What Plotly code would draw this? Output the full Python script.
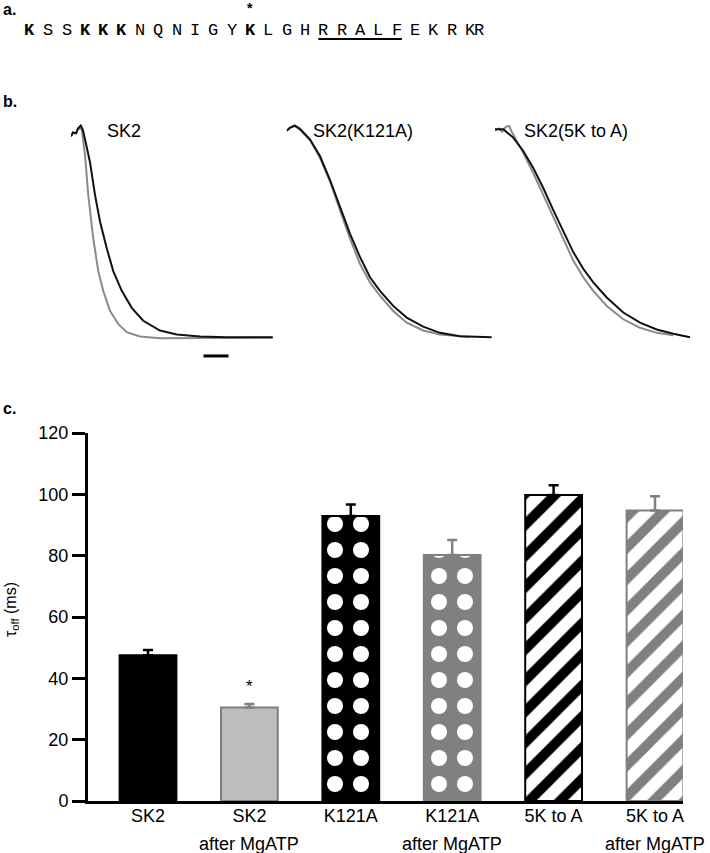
import plotly.graph_objects as go

W, H = 710, 853

# ---------------- DATA ----------------
# Panel a: peptide sequence
residues = ["K", "S", "S", "K", "K", "K", "N", "Q", "N", "I", "G", "Y", "K",
            "L", "G", "H", "R", "R", "A", "L", "F", "E", "K", "R", "K", "R"]
bold_idx = [0, 3, 4, 5, 12]
star_idx = 12
underline_span = (16, 20)

# Panel b: normalized current traces (time in ms, relative current)
sk2_t_ctrl = [0, 8, 20, 28, 39, 48, 56, 76, 96, 116, 143, 169, 203, 243, 289, 356, 423, 516, 623, 807]
sk2_i_ctrl = [0.949, 0.967, 0.963, 0.986, 1.0, 0.977, 0.935, 0.827, 0.673, 0.547, 0.421, 0.313,
              0.220, 0.140, 0.079, 0.033, 0.014, 0.005, 0.001, 0.001]
sk2_t_atp = [0, 8, 20, 28, 43, 56, 69, 89, 109, 129, 156, 189, 223, 276, 356, 488, 807]
sk2_i_atp = [0.949, 0.967, 0.963, 0.986, 0.983, 0.860, 0.673, 0.467, 0.313, 0.220, 0.126,
             0.064, 0.025, 0.005, -0.003, -0.003, -0.001]

k121a_t_ctrl = [0, 13, 33, 53, 93, 133, 173, 213, 253, 293, 333, 373, 426, 480, 546, 613, 693, 820]
k121a_i_ctrl = [0.975, 0.990, 0.999, 0.984, 0.935, 0.856, 0.744, 0.618, 0.490, 0.380, 0.284,
                0.220, 0.149, 0.094, 0.051, 0.022, 0.006, 0.001]
k121a_t_atp = [0, 29, 53, 93, 133, 173, 213, 253, 293, 333, 373, 426, 480, 546, 613, 693, 733]
k121a_i_atp = [0.975, 1.0, 0.980, 0.931, 0.848, 0.737, 0.601, 0.467, 0.348, 0.260, 0.197,
               0.125, 0.070, 0.033, 0.014, 0.006, 0.002]

k5a_t_ctrl = [0, 33, 73, 113, 153, 193, 233, 273, 313, 353, 393, 447, 513, 580, 647, 713, 780]
k5a_i_ctrl = [0.982, 0.982, 0.943, 0.880, 0.800, 0.705, 0.601, 0.499, 0.403, 0.324, 0.260,
              0.189, 0.118, 0.070, 0.038, 0.018, 0.001]
k5a_t_atp = [0, 16, 28, 44, 56, 68, 113, 153, 193, 233, 273, 313, 353, 393, 447, 513, 580, 647, 713]
k5a_i_atp = [0.976, 0.986, 0.971, 0.995, 0.998, 0.967, 0.871, 0.776, 0.673, 0.570, 0.467,
             0.363, 0.284, 0.220, 0.149, 0.086, 0.046, 0.022, 0.011]

trace_titles = ["SK2", "SK2(K121A)", "SK2(5K to A)"]
scale_bar_ms = 100
scale_bar_start_ms = 530
scale_bar_level = -0.087

# Panel c: tau_off bar chart
categories = ["SK2", "SK2<br>after MgATP", "K121A", "K121A<br>after MgATP",
              "5K to A", "5K to A<br>after MgATP"]
tau_mean = [47.5, 30.5, 92.9, 80.2, 99.8, 94.7]
tau_sem = [1.7, 1.1, 3.8, 4.9, 3.2, 4.7]
y_ticks = [0, 20, 40, 60, 80, 100, 120]
signif_idx = 1
signif_level = 37.3

# ---------------- STYLE ----------------
FONT = "Liberation Sans, Arial, Helvetica, sans-serif"
BLACK = "#000000"
GRAY = "#808080"
LIGHT = "#bdbdbd"

def pxx(x):
    return x / W

def pyy(y):
    return 1 - y / H

fig = go.Figure()

# ---------- Panel b traces ----------
panel_px = [(71, 275), (286.7, 494), (495, 700)]
panel_ranges = [(0, (275 - 71) * 4), (0, (494 - 286.7) * 4), (0, (700 - 495) * 4)]
y_dom = [pyy(360), pyy(115)]
y_rng = [(337.5 - 360) / 212, (337.5 - 115) / 212]

trace_data = [
    (sk2_t_atp, sk2_i_atp, sk2_t_ctrl, sk2_i_ctrl),
    (k121a_t_atp, k121a_i_atp, k121a_t_ctrl, k121a_i_ctrl),
    (k5a_t_atp, k5a_i_atp, k5a_t_ctrl, k5a_i_ctrl),
]
for k, (ta, ia, tc, ic) in enumerate(trace_data):
    xa = f"x{k+2}"
    ya = f"y{k+2}"
    fig.add_trace(go.Scatter(x=ta, y=ia, mode="lines", line=dict(color="#8a8a8a", width=2),
                             xaxis=xa, yaxis=ya, showlegend=False, hoverinfo="skip"))
    fig.add_trace(go.Scatter(x=tc, y=ic, mode="lines", line=dict(color="#111111", width=2),
                             xaxis=xa, yaxis=ya, showlegend=False, hoverinfo="skip"))

# scale bar
fig.add_trace(go.Scatter(x=[scale_bar_start_ms, scale_bar_start_ms + scale_bar_ms],
                         y=[scale_bar_level, scale_bar_level], mode="lines",
                         line=dict(color=BLACK, width=3), xaxis="x2", yaxis="y2",
                         showlegend=False, hoverinfo="skip"))

for k in range(3):
    fig.update_layout(**{
        f"xaxis{k+2}": dict(domain=[pxx(panel_px[k][0]), pxx(panel_px[k][1])],
                            range=list(panel_ranges[k]), visible=False, anchor=f"y{k+2}",
                            automargin=False),
        f"yaxis{k+2}": dict(domain=y_dom, range=y_rng, visible=False, anchor=f"x{k+2}",
                            automargin=False),
    })

# ---------- Panel c bars ----------
bar_styles = [
    dict(color=BLACK, line=dict(color=BLACK, width=2), pattern=dict(shape="")),
    dict(color=LIGHT, line=dict(color="#7f7f7f", width=2), pattern=dict(shape="")),
    dict(color=BLACK, line=dict(color=BLACK, width=2),
         pattern=dict(shape=".", fgcolor="white", bgcolor=BLACK, size=26, solidity=0.3,
                      fillmode="replace")),
    dict(color=GRAY, line=dict(color=GRAY, width=2),
         pattern=dict(shape=".", fgcolor="white", bgcolor=GRAY, size=26, solidity=0.3,
                      fillmode="replace")),
    dict(color="white", line=dict(color=BLACK, width=2),
         pattern=dict(shape="/", fgcolor=BLACK, bgcolor="white", size=22, solidity=0.45,
                      fillmode="replace")),
    dict(color="white", line=dict(color=GRAY, width=2),
         pattern=dict(shape="/", fgcolor=GRAY, bgcolor="white", size=22, solidity=0.45,
                      fillmode="replace")),
]
err_colors = [BLACK, GRAY, BLACK, GRAY, BLACK, GRAY]

for i in range(len(categories)):
    fig.add_trace(go.Bar(
        x=[i], y=[tau_mean[i]], width=0.56, marker=bar_styles[i],
        error_y=dict(type="data", array=[tau_sem[i]], arrayminus=[0], symmetric=False,
                     color=err_colors[i], thickness=2.5, width=5),
        showlegend=False, hoverinfo="skip", xaxis="x", yaxis="y"))

unit = 101.4
x0 = -(148 - 88) / unit
x1 = x0 + (683 - 88) / unit

# category labels: first line as tick labels, second line as annotations (wider line gap)
first_lines = [c.split("<br>")[0] for c in categories]
second_lines = [c.split("<br>")[1] if "<br>" in c else "" for c in categories]

fig.update_layout(
    xaxis=dict(domain=[pxx(88), pxx(683)], range=[x0, x1], tickmode="array",
               tickvals=list(range(len(categories))), ticktext=first_lines,
               showline=True, linecolor=BLACK, linewidth=3, ticks="",
               ticklabelstandoff=-4, showgrid=False, zeroline=False, automargin=False,
               tickfont=dict(family=FONT, size=18, color=BLACK), anchor="y"),
    yaxis=dict(domain=[pyy(801), pyy(433)], range=[0, 120], tickmode="array",
               tickvals=y_ticks, showline=True, linecolor=BLACK, linewidth=3,
               ticks="outside", ticklen=13, tickwidth=3, tickcolor=BLACK,
               showgrid=False, zeroline=False, automargin=False,
               tickfont=dict(family=FONT, size=18, color=BLACK), anchor="x"),
    barmode="overlay",
)

ann = []
for i, s in enumerate(second_lines):
    if s:
        ann.append(dict(x=i, y=pyy(844), xref="x", yref="paper", text=s, showarrow=False,
                        font=dict(family=FONT, size=18, color=BLACK),
                        xanchor="center", yanchor="middle"))
# significance star
ann.append(dict(x=signif_idx, y=signif_level, xref="x", yref="y", text="*", showarrow=False,
                font=dict(family=FONT, size=17, color=BLACK), xanchor="center", yanchor="middle"))
# y title
ann.append(dict(x=pxx(11), y=pyy(610), xref="paper", yref="paper",
                text="τ<sub>off</sub> (ms)", textangle=-90, showarrow=False,
                font=dict(family=FONT, size=16, color=BLACK), xanchor="center", yanchor="middle"))

# panel letters
for lab, yy in [("a.", 9), ("b.", 101), ("c.", 408)]:
    ann.append(dict(x=pxx(1), y=pyy(yy), xref="paper", yref="paper", text=f"<b>{lab}</b>",
                    showarrow=False, font=dict(family=FONT, size=16, color=BLACK),
                    xanchor="left", yanchor="middle"))

# panel b titles
for lab, xx in zip(trace_titles, [105, 311, 522]):
    ann.append(dict(x=pxx(xx), y=pyy(131), xref="paper", yref="paper", text=lab,
                    showarrow=False, font=dict(family=FONT, size=18, color=BLACK),
                    xanchor="left", yanchor="middle"))

# panel a sequence: one character cell per residue, a space cell between residues
cw = 9.17
seq_x0 = 25.4
mono = "Liberation Mono, Courier New, monospace"
cell = 0
cell_pos = []
for j, r in enumerate(residues):
    cell_pos.append(cell)
    cell += 1 if j == len(residues) - 2 else 2
for j, r in enumerate(residues):
    txt = f"<b>{r}</b>" if j in bold_idx else r
    ann.append(dict(x=pxx(seq_x0 + cell_pos[j] * cw + cw / 2), y=pyy(30), xref="paper",
                    yref="paper", text=txt, showarrow=False,
                    font=dict(family=mono, size=17, color=BLACK),
                    xanchor="center", yanchor="middle"))
ann.append(dict(x=pxx(seq_x0 + cell_pos[star_idx] * cw + cw / 2), y=pyy(8), xref="paper",
                yref="paper", text="<b>*</b>", showarrow=False,
                font=dict(family=FONT, size=14, color=BLACK), xanchor="center", yanchor="middle"))

shapes = [dict(type="line", xref="paper", yref="paper",
               x0=pxx(seq_x0 + cell_pos[underline_span[0]] * cw - 0.5),
               x1=pxx(seq_x0 + (cell_pos[underline_span[1]] + 1) * cw + 0.5),
               y0=pyy(39), y1=pyy(39), line=dict(color=BLACK, width=2))]

fig.update_layout(
    width=W, height=H, margin=dict(l=0, r=0, t=0, b=0, autoexpand=False),
    paper_bgcolor="white", plot_bgcolor="white",
    annotations=ann, shapes=shapes, showlegend=False,
)

fig.write_html("out.html", config={"displayModeBar": False},
               post_script="document.body.style.margin='0';document.body.style.overflow='hidden';")
